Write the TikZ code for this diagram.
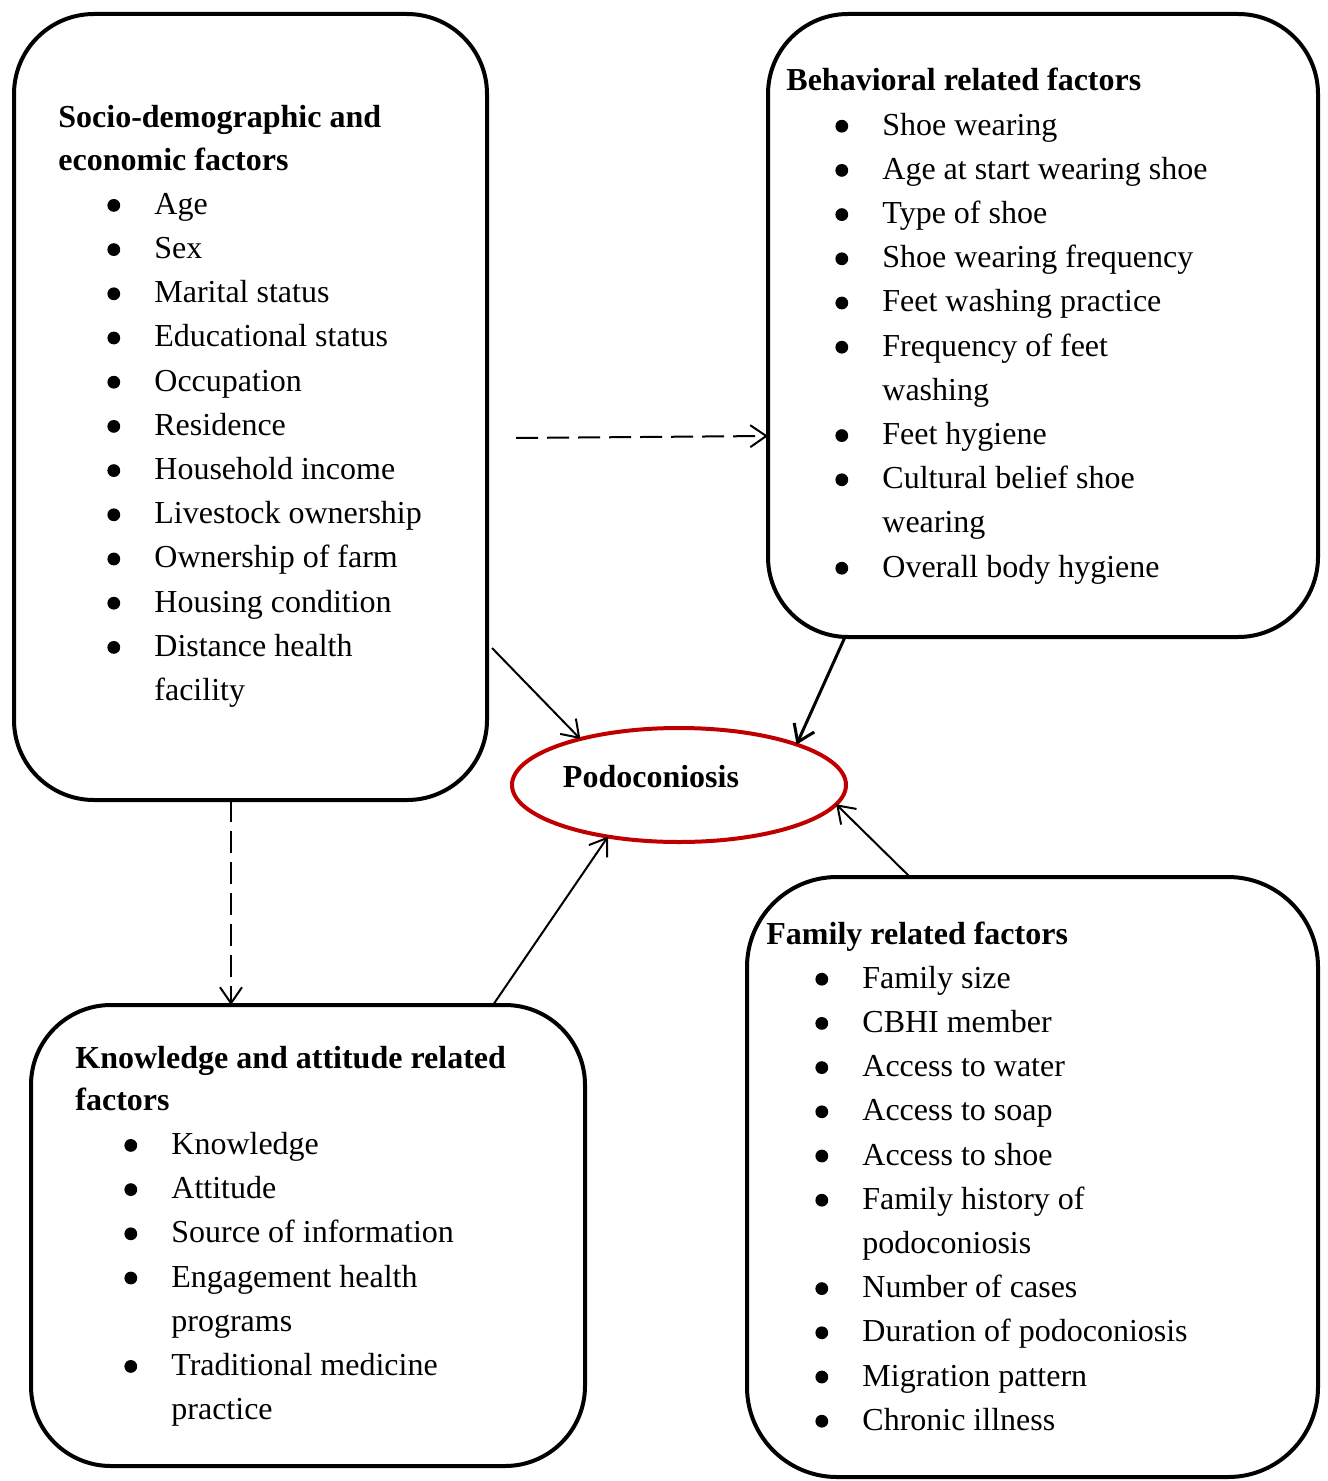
\documentclass[tikz,border=0pt]{standalone}
\usepackage{fontspec}
\setmainfont{Liberation Serif}
\usetikzlibrary{arrows.meta,shapes.geometric}
\definecolor{podored}{RGB}{192,0,0}
\newcommand{\dotmark}{\tikz[baseline=-4.5pt]\fill (0,0) circle (3.2pt);}
\newcommand{\itm}[1]{\hspace*{24.5pt}\makebox[23.5pt][l]{\dotmark}#1}
\newcommand{\cnt}[1]{\hspace*{48pt}#1}

\begin{document}
\begin{tikzpicture}[x=0.5pt,y=-0.5pt,font=\fontsize{16}{22.1}\selectfont,
 box/.style={draw,line width=2pt,rounded corners=40pt,outer sep=0pt,inner sep=0pt},
 txt/.style={anchor=base west,align=left,inner sep=0pt,text width=240pt,
  execute at begin node={\spaceskip=4pt plus 1pt minus 0.5pt}},
 arr/.style={-{Straight Barb[length=8pt,width=11pt]},line width=1pt},
 darr/.style={arr,dash pattern=on 11pt off 4.5pt}]
\useasboundingbox (0,0) rectangle (1327,1481);
% factor boxes
\node[box,minimum width=236.5pt,minimum height=393pt] (soc) at (250.5,407) {};
\node[box,minimum width=275pt,minimum height=311.5pt] (beh) at (1043,325.5) {};
\node[box,minimum width=277pt,minimum height=230.5pt] (know) at (308,1235.5) {};
\node[box,minimum width=285.5pt,minimum height=300pt,rounded corners=45pt] (fam) at (1032.5,1177) {};
\node[ellipse,draw=podored,line width=2pt,minimum width=167pt,minimum height=57pt,inner sep=0pt,outer sep=0pt,
 label={[xshift=-14pt,yshift=4pt,font=\fontsize{16}{22.1}\selectfont\bfseries]center:Podoconiosis}] (podo) at (679,785) {};
% box texts
\node[txt] (soctxt) at (58,128) {\textbf{Socio-demographic and}\\[-1pt]
 \textbf{economic factors}\\
 \itm{Age}\\
 \itm{Sex}\\
 \itm{Marital status}\\
 \itm{Educational status}\\
 \itm{Occupation}\\
 \itm{Residence}\\
 \itm{Household income}\\
 \itm{Livestock ownership}\\
 \itm{Ownership of farm}\\
 \itm{Housing condition}\\
 \itm{Distance health}\\
 \cnt{facility}};
\node[txt] (behtxt) at (786,91) {\textbf{Behavioral related factors}\\
 \itm{Shoe wearing}\\
 \itm{Age at start wearing shoe}\\
 \itm{Type of shoe}\\
 \itm{Shoe wearing frequency}\\
 \itm{Feet washing practice}\\
 \itm{Frequency of feet}\\
 \cnt{washing}\\
 \itm{Feet hygiene}\\
 \itm{Cultural belief shoe}\\
 \cnt{wearing}\\
 \itm{Overall body hygiene}};
\node[txt] (knowtxt) at (75,1068) {\textbf{Knowledge and attitude related}\\[-1pt]
 \textbf{factors}\\
 \itm{Knowledge}\\
 \itm{Attitude}\\
 \itm{Source of information}\\
 \itm{Engagement health}\\
 \cnt{programs}\\
 \itm{Traditional medicine}\\
 \cnt{practice}};
\node[txt] (famtxt) at (766,944) {\textbf{Family related factors}\\
 \itm{Family size}\\
 \itm{CBHI member}\\
 \itm{Access to water}\\
 \itm{Access to soap}\\
 \itm{Access to shoe}\\
 \itm{Family history of}\\
 \cnt{podoconiosis}\\
 \itm{Number of cases}\\
 \itm{Duration of podoconiosis}\\
 \itm{Migration pattern}\\
 \itm{Chronic illness}};
% connectors
\draw[darr] ([xshift=14.5pt,yshift=-15.5pt]soc.east) -- ([yshift=-55.25pt]beh.west);
\draw[darr] ([xshift=-9.75pt]soc.south) -- ([xshift=-38.5pt]know.north);
\draw[arr] ([xshift=2.5pt,yshift=-120.5pt]soc.east) -- (podo.155);
\draw[arr,line width=1.5pt] ([xshift=-99pt]beh.south) -- (podo.19);
\draw[arr] ([xshift=92.5pt]know.north) -- (podo.216);
\draw[arr] ([xshift=-61.25pt]fam.north) -- (podo.-7);
\end{tikzpicture}
\end{document}
